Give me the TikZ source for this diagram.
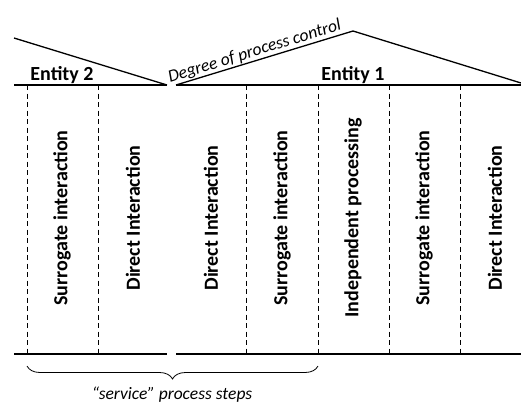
\documentclass[tikz,border=0pt]{standalone}
\usepackage{fontspec}
\setmainfont{Carlito}
\usetikzlibrary{decorations.pathreplacing}

\tikzset{
  rule/.style={line width=1.3pt},
  divider/.style={line width=0.8pt, dash pattern=on 5pt off 3.5pt},
  slope/.style={line width=1.3pt},
  coltext/.style={rotate=90, font=\fontsize{20}{22}\selectfont\bfseries, inner sep=0pt},
  entity/.style={font=\fontsize{20}{22}\selectfont\bfseries, inner sep=0pt},
  note/.style={font=\fontsize{17.5}{20}\selectfont\itshape, inner sep=0pt},
}

\begin{document}
\begin{tikzpicture}[x=1pt, y=-1pt]
  \useasboundingbox (0,0) rectangle (521,405);

  % horizontal rules, top and bottom, split into two parts
  \coordinate (tl1) at (14,85);   \coordinate (tl2) at (167,85);
  \coordinate (tr1) at (176,85);  \coordinate (tr2) at (521,85);
  \coordinate (bl1) at (14,354);  \coordinate (bl2) at (167,354);
  \coordinate (br1) at (176,354); \coordinate (br2) at (521,354);
  \draw[rule] (tl1) -- (tl2);
  \draw[rule] (tr1) -- (tr2);
  \draw[rule] (bl1) -- (bl2);
  \draw[rule] (br1) -- (br2);

  % degree of process control
  \coordinate (e2start) at (14,38);
  \coordinate (e1peak) at (353,31);
  \coordinate (e1end) at (521,83);
  \draw[slope] (e2start) -- (tl2);
  \draw[slope] (tr1) -- (e1peak) -- (e1end);
  \node[note, rotate=17.2, anchor=base] (degree) at (256,56) {Degree of process control};

  % entity labels
  \node[entity] (ent2) at (62,75) {Entity 2};
  \node[entity] (ent1) at (353,75) {Entity 1};

  % column dividers
  \foreach \x [count=\i] in {27,98,246,318,389,460} {
    \coordinate (d\i t) at (\x,85);
    \coordinate (d\i b) at (\x,354);
    \draw[divider] (d\i t) -- (d\i b);
  }

  % column labels
  \node[coltext] (c1) at (62,218) {Surrogate interaction};
  \node[coltext] (c2) at (133,218) {Direct Interaction};
  \node[coltext] (c3) at (211,218) {Direct Interaction};
  \node[coltext] (c4) at (282,218) {Surrogate interaction};
  \node[coltext] (c5) at (353,218) {Independent processing};
  \node[coltext] (c6) at (424,218) {Surrogate interaction};
  \node[coltext] (c7) at (495,218) {Direct Interaction};

  % service brace
  \coordinate (bs) at (27,366);
  \coordinate (be) at (318,366);
  \draw[line width=0.8pt, decorate, decoration={brace, mirror, amplitude=13pt}] (bs) -- (be);
  \node[note, anchor=base] (service) at (172,399) {“service” process steps};
\end{tikzpicture}
\end{document}
